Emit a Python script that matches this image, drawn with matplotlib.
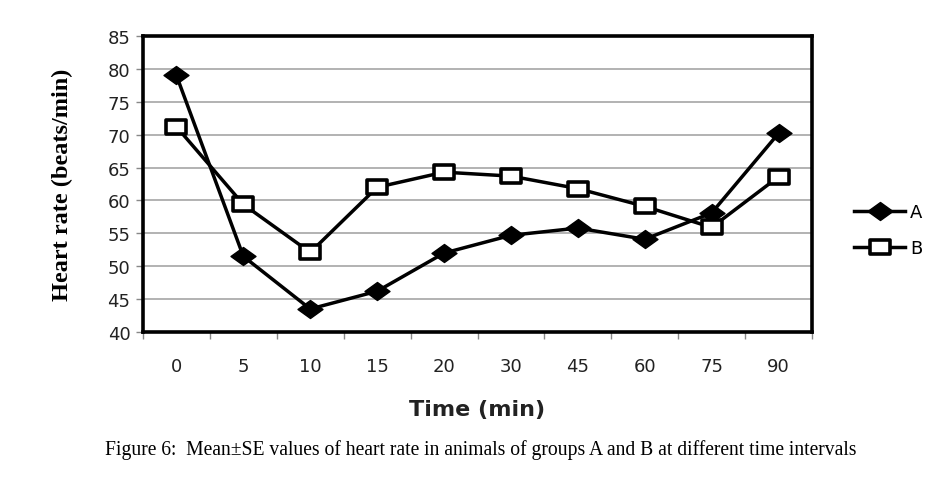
import matplotlib
matplotlib.use("Agg")
import matplotlib.pyplot as plt
from matplotlib.path import Path
import numpy as np

categories = ["0", "5", "10", "15", "20", "30", "45", "60", "75", "90"]
group_a = [79.0, 51.5, 43.5, 46.2, 52.0, 54.7, 55.8, 54.1, 58.1, 70.2]
group_b = [71.2, 59.4, 52.1, 62.0, 64.3, 63.7, 61.8, 59.1, 55.9, 63.6]
y_ticks = [40, 45, 50, 55, 60, 65, 70, 75, 80, 85]

# wide (horizontally stretched) marker shapes as in the reference
diamond = Path([(-1.0, 0.0), (0.0, 0.72), (1.0, 0.0), (0.0, -0.72), (-1.0, 0.0)],
               [Path.MOVETO, Path.LINETO, Path.LINETO, Path.LINETO, Path.CLOSEPOLY])
rect = Path([(-1.0, -0.68), (1.0, -0.68), (1.0, 0.68), (-1.0, 0.68), (-1.0, -0.68)],
            [Path.MOVETO, Path.LINETO, Path.LINETO, Path.LINETO, Path.CLOSEPOLY])

fig = plt.figure(figsize=(9.43, 4.85), dpi=100)
ax = fig.add_axes([143/943, 1-333/485, (812-143)/943, (333-37)/485])

x = np.arange(len(categories))
ax.plot(x, group_a, color="black", lw=2.5, marker=diamond, markersize=18,
        markerfacecolor="black", markeredgecolor="black", markeredgewidth=1,
        label="A", zorder=3)
ax.plot(x, group_b, color="black", lw=2.5, marker=rect, markersize=15,
        markerfacecolor="white", markeredgecolor="black", markeredgewidth=2.6,
        label="B", zorder=3)

ax.set_xlim(-0.5, len(categories) - 0.5)
ax.set_ylim(40, 85)
ax.set_yticks(y_ticks)
ax.set_yticklabels([str(v) for v in y_ticks])
ax.set_xticks(x)
ax.set_xticklabels(categories)
ax.set_xticks(np.arange(-0.5, len(categories)), minor=True)
ax.tick_params(axis="x", which="major", length=0, pad=18, labelsize=13)
ax.tick_params(axis="x", which="minor", length=5, width=1, color="#888888", direction="out")
ax.tick_params(axis="y", which="major", length=5, width=1, color="#888888",
               direction="out", labelsize=13, pad=4)
for lbl in ax.get_xticklabels() + ax.get_yticklabels():
    lbl.set_color("#222222")

ax.grid(axis="y", color="#a6a6a6", lw=1.2, zorder=0)
ax.set_axisbelow(True)
for s in ax.spines.values():
    s.set_linewidth(2.6)
    s.set_color("black")

ax.set_xlabel("Time (min)", fontsize=16, fontweight="bold", labelpad=17,
              color="#222222")
ax.set_ylabel("Heart rate (beats/min)", fontsize=17.5, fontweight="bold",
              family="Liberation Serif")
ax.yaxis.set_label_coords(-0.104, 0.5)

leg = ax.legend(loc="center left", bbox_to_anchor=(838/943, 1-231/485),
                bbox_transform=fig.transFigure, frameon=False, fontsize=13,
                handlelength=2.8, labelspacing=1.0, handletextpad=0.3)

fig.text(481/943, 1-450/485,
         "Figure 6:  Mean\u00b1SE values of heart rate in animals of groups A and B at different time intervals",
         ha="center", va="center", family="Liberation Serif", fontsize=14.1)

fig.savefig("out.png", dpi=100)
